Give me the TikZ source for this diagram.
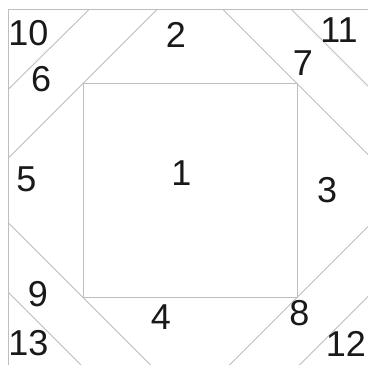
\documentclass[tikz,border=0pt]{standalone}
\usepackage{fontspec}
\setmainfont{Liberation Sans}
\begin{document}
\begin{tikzpicture}[x=1pt,y=-1pt,
  edge/.style={draw={rgb,255:red,190;green,190;blue,190},line width=0.9pt},
  lbl/.style={inner sep=0pt,text={rgb,255:red,25;green,25;blue,25},font=\fontsize{36}{40}\selectfont}]
\useasboundingbox (0,0) rectangle (368,365);
\clip (0,0) rectangle (368,365);
% frame and inner square corners
\coordinate (F1) at (8.3,9.3);
\coordinate (F2) at (372.3,373.3);
\coordinate (S1) at (83,83.5);
\coordinate (S2) at (297,297.5);
% diagonal end points
\coordinate (a1) at (8.3,89.3);   \coordinate (a2) at (89.3,9.3);
\coordinate (b1) at (8.3,158.2);  \coordinate (b2) at (157.2,9.3);
\coordinate (c1) at (291.3,9.3);  \coordinate (c2) at (372.3,90.3);
\coordinate (d1) at (222.8,9.3);  \coordinate (d2) at (372.3,158.8);
\coordinate (e1) at (8.3,222.8);  \coordinate (e2) at (158.8,373.3);
\coordinate (f1) at (8.3,292.3);  \coordinate (f2) at (89.3,373.3);
\coordinate (g1) at (372.3,222.2);\coordinate (g2) at (221.2,373.3);
\coordinate (h1) at (372.3,292.3);\coordinate (h2) at (291.3,373.3);
\draw[edge] (F1) rectangle (F2);
\draw[edge] (S1) rectangle (S2);
\draw[edge] (a1) -- (a2);
\draw[edge] (b1) -- (b2);
\draw[edge] (c1) -- (c2);
\draw[edge] (d1) -- (d2);
\draw[edge] (e1) -- (e2);
\draw[edge] (f1) -- (f2);
\draw[edge] (g1) -- (g2);
\draw[edge] (h1) -- (h2);
% labels
\node[lbl] (n10) at (28.5,33) {10};
\node[lbl] (n2) at (175.8,35) {2};
\node[lbl] (n11) at (339,30.5) {11};
\node[lbl] (n6) at (41.2,79.2) {6};
\node[lbl] (n7) at (303,63) {7};
\node[lbl] (n5) at (26.3,179.5) {5};
\node[lbl] (n1) at (181.4,173) {1};
\node[lbl] (n3) at (327.2,189.7) {3};
\node[lbl] (n9) at (38,293.7) {9};
\node[lbl] (n4) at (161,317) {4};
\node[lbl] (n8) at (299.5,313.3) {8};
\node[lbl] (n13) at (28.5,342.7) {13};
\node[lbl] (n12) at (346,343.7) {12};
\end{tikzpicture}
\end{document}
